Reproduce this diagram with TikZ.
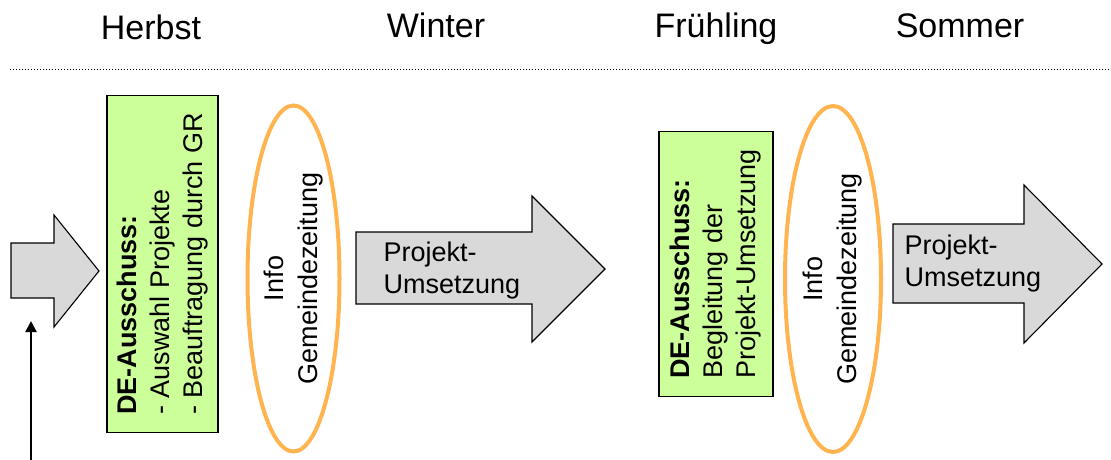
\documentclass[tikz,border=0pt]{standalone}
\usepackage{fontspec}
\setmainfont{Liberation Sans}
\usetikzlibrary{arrows.meta,shapes.geometric}
\definecolor{boxgreen}{RGB}{204,255,153}
\definecolor{arrgray}{RGB}{217,217,217}
\definecolor{ellorange}{RGB}{255,180,80}
\tikzset{
  season/.style={anchor=base,font=\fontsize{34}{40}\selectfont},
  greenbox/.style={draw=black,line width=1.3pt,fill=boxgreen,rotate=90,align=left,
    font=\fontsize{27}{33}\selectfont,inner xsep=18pt,inner ysep=0pt},
  infoell/.style={draw=ellorange,line width=4pt,ellipse},
  infotext/.style={rotate=90,align=center,font=\fontsize{27}{34}\selectfont},
  bigarrow/.style={draw=black,line width=1.1pt,fill=arrgray},
  arrtext/.style={anchor=west,align=left,font=\fontsize{27}{32}\selectfont},
  pointer/.style={line width=2pt,-{Triangle[length=11pt,width=11pt]}}
}
\begin{document}
\begin{tikzpicture}[x=1pt,y=-1pt]
\useasboundingbox (0,0) rectangle (1111,460);
% seasons
\node[season] (herbst) at (151,40) {Herbst};
\node[season] (winter) at (436,38) {Winter};
\node[season] (fruehling) at (716,38) {Frühling};
\node[season] (sommer) at (960,38) {Sommer};
\draw[dotted,line width=1pt] (10,70) -- (1111,70);
% left arrow
\draw[bigarrow] (11,243) -- (54,243) -- (54,215) -- (99,271) -- (54,327) -- (54,298) -- (11,298) -- cycle;
\coordinate (pstart) at (31,460);
\coordinate (pend) at (31,321);
\draw[pointer] (pstart) -- (pend);
% green box 1
\node[greenbox,minimum width=336pt,minimum height=111pt] (box1) at (162.5,264)
  {\textbf{DE-Ausschuss:}\\- Auswahl Projekte\\- Beauftragung durch GR};
% ellipse 1
\node[infoell,minimum width=92pt,minimum height=346pt,inner sep=0pt] (ell1) at (293.5,278.5) {};
\node[infotext] (info1) at (ell1.center) {Info\\Gemeindezeitung};
% arrow 2
\draw[bigarrow] (356,232) -- (532,232) -- (532,196) -- (605,269) -- (532,342) -- (532,304) -- (356,304) -- cycle;
\node[arrtext] (txt2) at (380,271) {Projekt-\\Umsetzung};
% green box 2
\node[greenbox,minimum width=262pt,minimum height=114pt] (box2) at (716,264)
  {\textbf{DE-Ausschuss:}\\Begleitung der\\Projekt-Umsetzung};
% ellipse 2
\node[infoell,minimum width=96pt,minimum height=346pt,inner sep=0pt] (ell2) at (833,279) {};
\node[infotext] (info2) at (ell2.center) {Info\\Gemeindezeitung};
% arrow 3
\draw[bigarrow] (893,224) -- (1024,224) -- (1024,185) -- (1102,264) -- (1024,343) -- (1024,303) -- (893,303) -- cycle;
\node[arrtext] (txt3) at (901,264) {Projekt-\\Umsetzung};
\end{tikzpicture}
\end{document}
